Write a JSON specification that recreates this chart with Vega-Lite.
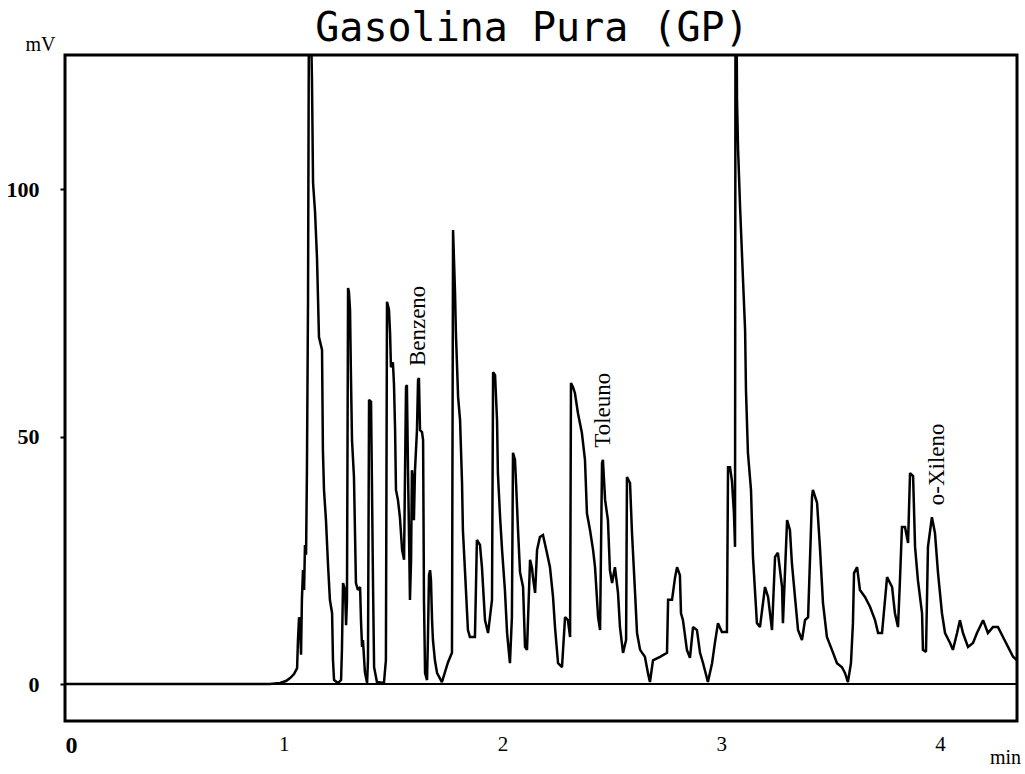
{
  "$schema": "https://vega.github.io/schema/vega-lite/v6.json",
  "width": 952,
  "height": 666,
  "autosize": {"type": "none"},
  "padding": {"left": 65, "top": 55, "right": 8, "bottom": 53},
  "background": "white",
  "title": {
    "text": "Gasolina Pura (GP)",
    "font": "DejaVu Sans Mono",
    "fontSize": 40,
    "fontWeight": "normal",
    "color": "black",
    "anchor": "middle",
    "baseline": "alphabetic",
    "offset": -47,
    "dx": -9
  },
  "config": {
    "view": {"stroke": "black", "strokeWidth": 3},
    "axis": {"grid": false, "domain": false}
  },
  "datasets": {
    "trace": [
      {"t":0,"v":0},{"t":0.937,"v":0},{"t":0.983,"v":0.2},{"t":1.010,"v":0.6},{"t":1.029,"v":1.2},{"t":1.047,"v":2.0},{"t":1.061,"v":3.2},{"t":1.065,"v":8.9},{"t":1.070,"v":13.5},{"t":1.074,"v":12.5},{"t":1.079,"v":5.9},{"t":1.083,"v":17.0},{"t":1.088,"v":23.0},{"t":1.093,"v":19.0},{"t":1.097,"v":28.1},{"t":1.102,"v":26.1},{"t":1.106,"v":43.2},{"t":1.111,"v":77.6},{"t":1.115,"v":135},{"t":1.125,"v":132},{"t":1.129,"v":122.0},{"t":1.134,"v":101.2},{"t":1.143,"v":95.4},{"t":1.152,"v":86.1},{"t":1.161,"v":70.1},{"t":1.175,"v":67.5},{"t":1.179,"v":47.3},{"t":1.184,"v":39.2},{"t":1.193,"v":33.1},{"t":1.202,"v":24.4},{"t":1.211,"v":17.0},{"t":1.221,"v":14.3},{"t":1.225,"v":4.8},{"t":1.230,"v":0.8},{"t":1.248,"v":0.2},{"t":1.262,"v":0.8},{"t":1.266,"v":6.9},{"t":1.271,"v":20.4},{"t":1.280,"v":19.0},{"t":1.285,"v":11.9},{"t":1.289,"v":17.0},{"t":1.294,"v":80.0},{"t":1.298,"v":79.2},{"t":1.303,"v":75.6},{"t":1.307,"v":62.8},{"t":1.312,"v":49.3},{"t":1.321,"v":41.8},{"t":1.330,"v":20.4},{"t":1.339,"v":19.0},{"t":1.349,"v":19.6},{"t":1.353,"v":12.9},{"t":1.358,"v":7.5},{"t":1.362,"v":8.9},{"t":1.371,"v":2.4},{"t":1.381,"v":0.2},{"t":1.385,"v":4.8},{"t":1.390,"v":57.4},{"t":1.399,"v":57.0},{"t":1.403,"v":41.2},{"t":1.408,"v":20.4},{"t":1.413,"v":3.4},{"t":1.426,"v":0.4},{"t":1.458,"v":0.2},{"t":1.467,"v":4.8},{"t":1.472,"v":77.2},{"t":1.481,"v":75.6},{"t":1.486,"v":70.9},{"t":1.490,"v":64.0},{"t":1.499,"v":65.0},{"t":1.504,"v":60.4},{"t":1.509,"v":51.3},{"t":1.513,"v":39.2},{"t":1.522,"v":37.2},{"t":1.531,"v":33.7},{"t":1.541,"v":27.1},{"t":1.550,"v":25.1},{"t":1.554,"v":41.2},{"t":1.559,"v":60.0},{"t":1.563,"v":60.4},{"t":1.568,"v":43.2},{"t":1.573,"v":29.1},{"t":1.577,"v":17.0},{"t":1.582,"v":25.1},{"t":1.586,"v":43.2},{"t":1.591,"v":41.2},{"t":1.595,"v":33.1},{"t":1.600,"v":43.2},{"t":1.609,"v":51.3},{"t":1.614,"v":61.4},{"t":1.618,"v":61.8},{"t":1.623,"v":51.3},{"t":1.632,"v":50.9},{"t":1.637,"v":49.3},{"t":1.641,"v":17.0},{"t":1.646,"v":2.2},{"t":1.655,"v":0.8},{"t":1.659,"v":8.9},{"t":1.664,"v":22.0},{"t":1.669,"v":23.0},{"t":1.673,"v":21.0},{"t":1.678,"v":12.9},{"t":1.682,"v":8.9},{"t":1.691,"v":4.8},{"t":1.701,"v":2.2},{"t":1.723,"v":0.4},{"t":1.737,"v":2.4},{"t":1.751,"v":4.4},{"t":1.769,"v":6.3},{"t":1.774,"v":91.7},{"t":1.783,"v":79.0},{"t":1.787,"v":70.9},{"t":1.797,"v":58.0},{"t":1.806,"v":53.3},{"t":1.815,"v":40.6},{"t":1.819,"v":31.1},{"t":1.829,"v":22.4},{"t":1.842,"v":10.9},{"t":1.851,"v":9.5},{"t":1.874,"v":9.5},{"t":1.883,"v":29.1},{"t":1.897,"v":28.1},{"t":1.906,"v":23.6},{"t":1.920,"v":12.9},{"t":1.934,"v":10.3},{"t":1.952,"v":17.0},{"t":1.957,"v":63.0},{"t":1.966,"v":62.4},{"t":1.975,"v":53.3},{"t":1.979,"v":42.6},{"t":1.989,"v":33.7},{"t":1.998,"v":27.1},{"t":2.011,"v":19.0},{"t":2.021,"v":10.3},{"t":2.034,"v":4.2},{"t":2.043,"v":13.5},{"t":2.048,"v":46.7},{"t":2.057,"v":45.3},{"t":2.062,"v":40.6},{"t":2.071,"v":31.1},{"t":2.080,"v":22.6},{"t":2.094,"v":19.6},{"t":2.103,"v":7.5},{"t":2.112,"v":6.9},{"t":2.126,"v":25.1},{"t":2.135,"v":23.4},{"t":2.139,"v":21.6},{"t":2.149,"v":18.4},{"t":2.158,"v":27.1},{"t":2.171,"v":29.7},{"t":2.185,"v":30.1},{"t":2.203,"v":26.5},{"t":2.217,"v":23.6},{"t":2.231,"v":17.6},{"t":2.240,"v":11.5},{"t":2.254,"v":4.2},{"t":2.272,"v":3.4},{"t":2.286,"v":13.5},{"t":2.299,"v":12.9},{"t":2.309,"v":9.5},{"t":2.313,"v":60.8},{"t":2.322,"v":60.0},{"t":2.331,"v":58.8},{"t":2.345,"v":54.7},{"t":2.363,"v":50.7},{"t":2.377,"v":45.3},{"t":2.386,"v":34.5},{"t":2.400,"v":31.1},{"t":2.414,"v":27.1},{"t":2.423,"v":23.6},{"t":2.437,"v":13.5},{"t":2.446,"v":10.9},{"t":2.455,"v":44.6},{"t":2.459,"v":45.3},{"t":2.469,"v":37.2},{"t":2.482,"v":33.1},{"t":2.491,"v":23.0},{"t":2.501,"v":20.4},{"t":2.514,"v":23.6},{"t":2.528,"v":18.4},{"t":2.537,"v":11.5},{"t":2.551,"v":6.3},{"t":2.565,"v":8.9},{"t":2.569,"v":41.8},{"t":2.583,"v":40.6},{"t":2.592,"v":30.5},{"t":2.606,"v":18.4},{"t":2.615,"v":10.3},{"t":2.629,"v":6.9},{"t":2.651,"v":5.5},{"t":2.665,"v":2.2},{"t":2.674,"v":0.4},{"t":2.688,"v":4.8},{"t":2.720,"v":5.5},{"t":2.752,"v":6.3},{"t":2.757,"v":17.0},{"t":2.775,"v":17.0},{"t":2.789,"v":21.6},{"t":2.798,"v":23.6},{"t":2.811,"v":22.0},{"t":2.816,"v":14.3},{"t":2.825,"v":12.9},{"t":2.843,"v":6.9},{"t":2.857,"v":5.3},{"t":2.871,"v":11.5},{"t":2.889,"v":10.9},{"t":2.903,"v":6.3},{"t":2.917,"v":4.2},{"t":2.939,"v":0.4},{"t":2.958,"v":4.2},{"t":2.971,"v":8.3},{"t":2.985,"v":12.3},{"t":3.003,"v":10.5},{"t":3.026,"v":10.5},{"t":3.031,"v":43.8},{"t":3.040,"v":43.8},{"t":3.049,"v":41.0},{"t":3.058,"v":34.5},{"t":3.063,"v":27.7},{"t":3.065,"v":135},{"t":3.070,"v":135},{"t":3.072,"v":118.0},{"t":3.077,"v":107.9},{"t":3.086,"v":96.4},{"t":3.099,"v":82.2},{"t":3.109,"v":71.5},{"t":3.113,"v":59.4},{"t":3.122,"v":46.7},{"t":3.136,"v":39.2},{"t":3.145,"v":25.7},{"t":3.154,"v":19.0},{"t":3.163,"v":12.3},{"t":3.177,"v":11.5},{"t":3.200,"v":19.6},{"t":3.214,"v":17.6},{"t":3.232,"v":10.9},{"t":3.246,"v":25.7},{"t":3.259,"v":26.5},{"t":3.278,"v":19.6},{"t":3.282,"v":12.3},{"t":3.301,"v":33.1},{"t":3.314,"v":31.1},{"t":3.323,"v":24.4},{"t":3.337,"v":17.6},{"t":3.351,"v":10.9},{"t":3.369,"v":8.9},{"t":3.383,"v":12.9},{"t":3.397,"v":13.5},{"t":3.415,"v":37.8},{"t":3.419,"v":39.2},{"t":3.438,"v":36.6},{"t":3.451,"v":27.7},{"t":3.465,"v":16.4},{"t":3.483,"v":9.5},{"t":3.506,"v":6.9},{"t":3.529,"v":4.2},{"t":3.552,"v":3.4},{"t":3.566,"v":2.2},{"t":3.579,"v":0.4},{"t":3.593,"v":4.2},{"t":3.602,"v":12.3},{"t":3.607,"v":22.4},{"t":3.621,"v":23.6},{"t":3.634,"v":19.0},{"t":3.657,"v":17.6},{"t":3.680,"v":15.6},{"t":3.703,"v":12.9},{"t":3.717,"v":10.3},{"t":3.735,"v":10.3},{"t":3.758,"v":21.6},{"t":3.781,"v":19.6},{"t":3.794,"v":14.3},{"t":3.808,"v":11.5},{"t":3.817,"v":21.0},{"t":3.826,"v":31.7},{"t":3.840,"v":31.7},{"t":3.854,"v":28.5},{"t":3.863,"v":42.6},{"t":3.877,"v":42.0},{"t":3.886,"v":27.7},{"t":3.899,"v":21.0},{"t":3.918,"v":14.3},{"t":3.922,"v":6.9},{"t":3.936,"v":6.5},{"t":3.945,"v":27.7},{"t":3.963,"v":33.7},{"t":3.977,"v":30.5},{"t":3.991,"v":22.4},{"t":4.009,"v":14.3},{"t":4.023,"v":10.3},{"t":4.046,"v":8.3},{"t":4.059,"v":6.9},{"t":4.078,"v":10.3},{"t":4.091,"v":12.9},{"t":4.105,"v":10.3},{"t":4.128,"v":7.5},{"t":4.151,"v":8.3},{"t":4.169,"v":10.3},{"t":4.197,"v":12.9},{"t":4.219,"v":10.3},{"t":4.242,"v":11.5},{"t":4.265,"v":11.5},{"t":4.288,"v":9.5},{"t":4.311,"v":7.5},{"t":4.334,"v":5.5},{"t":4.352,"v":4.8}
    ],
    "peaks": [
      {"t": 1.614, "v": 61.8, "label": "Benzeno"},
      {"t": 2.459, "v": 45.3, "label": "Toleuno"},
      {"t": 3.986, "v": 33.7, "label": "o-Xileno"}
    ]
  },
  "layer": [
    {
      "data": {"values": [{}]},
      "mark": {"type": "rule", "color": "black", "strokeWidth": 2},
      "encoding": {
        "y": {"datum": 0, "type": "quantitative", "scale": {"domain": [-7.47, 127.07], "nice": false, "zero": false}}
      }
    },
    {
      "data": {"name": "trace"},
      "mark": {"type": "line", "color": "black", "strokeWidth": 2.5, "clip": true, "strokeJoin": "miter", "strokeMiterLimit": 2},
      "encoding": {
        "x": {
          "field": "t",
          "type": "quantitative",
          "scale": {"domain": [0, 4.352], "nice": false, "zero": false},
          "axis": {
            "values": [0, 1, 2, 3, 4],
            "format": "d",
            "ticks": false,
            "labelFlush": false,
            "labelOverlap": false,
            "labelFont": "Liberation Serif",
            "labelColor": "black",
            "labelPadding": 12,
            "labelFontSize": {"condition": {"test": "datum.value === 0", "value": 24}, "value": 21},
            "labelFontWeight": {"condition": {"test": "datum.value === 0", "value": "bold"}, "value": "normal"},
            "labelAlign": {"condition": {"test": "datum.value === 0", "value": "left"}, "value": "center"},
            "title": "min",
            "titleFont": "Liberation Serif",
            "titleFontSize": 20,
            "titleFontWeight": "normal",
            "titleColor": "black",
            "titleX": 940,
            "titleY": 42,
            "titleAlign": "center",
            "titleBaseline": "alphabetic"
          }
        },
        "y": {
          "field": "v",
          "type": "quantitative",
          "scale": {"domain": [-7.47, 127.07], "nice": false, "zero": false},
          "axis": {
            "values": [0, 50, 100],
            "ticks": true,
            "tickSize": 5,
            "tickWidth": 2,
            "tickColor": "black",
            "labelFont": "Liberation Serif",
            "labelFontSize": 22,
            "labelFontWeight": "bold",
            "labelColor": "black",
            "labelPadding": 21,
            "title": "mV",
            "titleAngle": 0,
            "titleX": -25,
            "titleY": -5,
            "titleAlign": "center",
            "titleBaseline": "alphabetic",
            "titleFont": "Liberation Serif",
            "titleFontSize": 20,
            "titleFontWeight": "normal",
            "titleColor": "black"
          }
        }
      }
    },
    {
      "data": {"name": "peaks"},
      "mark": {"type": "text", "angle": 270, "align": "left", "baseline": "middle", "dx": 12, "font": "Liberation Serif", "fontSize": 23, "color": "black"},
      "encoding": {
        "x": {"field": "t", "type": "quantitative"},
        "y": {"field": "v", "type": "quantitative"},
        "text": {"field": "label"}
      }
    }
  ]
}
